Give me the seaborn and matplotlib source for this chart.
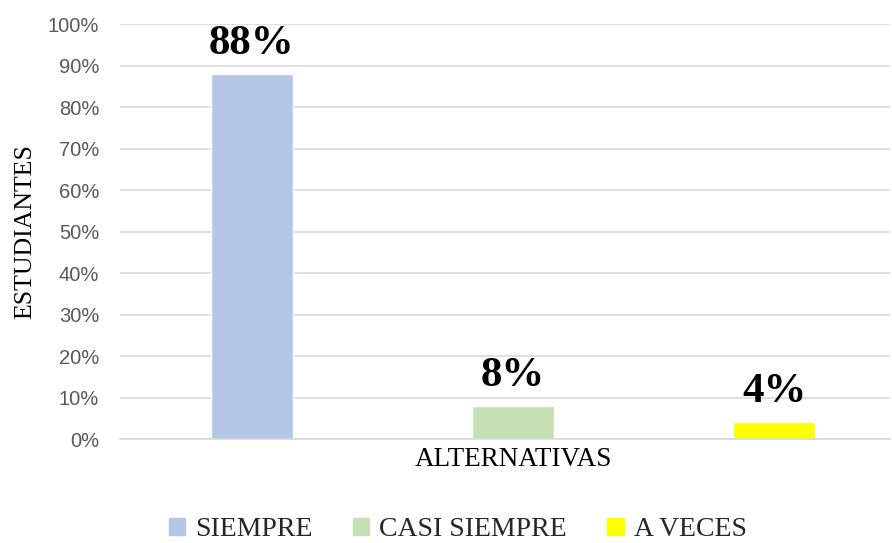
import numpy as np
import pandas as pd
import matplotlib.pyplot as plt
import matplotlib.patches as mpatches
from matplotlib.ticker import PercentFormatter
import seaborn as sns

categoria  = ['ALTERNATIVAS']
respuestas = ['SIEMPRE', 'CASI SIEMPRE', 'A VECES']
porcentaje = [0.88, 0.08, 0.04]
colores    = ['#B4C7E7', '#C5E0B4', '#FFFF00']

df = pd.DataFrame({
    'grupo'     : categoria * len(respuestas),
    'respuesta' : respuestas,
    'valor'     : porcentaje
})

sns.set_theme(style='white')
plt.rcParams['font.family'] = ['Liberation Serif', 'DejaVu Serif']

fig = plt.figure(figsize=(8.92, 5.43), dpi=100)
ax = fig.add_axes([0.1345, 0.1915, 0.8635, 0.7643])

sns.barplot(
    data=df, x='grupo', y='valor', hue='respuesta',
    palette=colores, hue_order=respuestas,
    width=0.8, gap=0.686, saturation=1, legend=False, ax=ax
)

for cont in ax.containers:
    ax.bar_label(cont, labels=[f'{v * 100:.0f}%' for v in cont.datavalues],
                 padding=8, fontsize=31, fontweight='bold',
                 family=['Liberation Serif'], color='black')

ax.set_ylim(0, 1.0)
ax.set_xlim(-0.401, 0.385)
ax.set_yticks(np.arange(0, 1.01, 0.1))
ax.yaxis.set_major_formatter(PercentFormatter(1.0, decimals=0))
for t in ax.get_yticklabels():
    t.set_family(['Liberation Sans'])
    t.set_fontsize(14.5)
    t.set_color('#595959')
ax.tick_params(axis='y', length=0, pad=15)
ax.tick_params(axis='x', length=0, pad=6, labelsize=19.5, labelcolor='black')

ax.grid(axis='y', color='#d9d9d9', linewidth=1.2)
ax.set_axisbelow(True)
for s in ['top', 'right', 'left']:
    ax.spines[s].set_visible(False)
ax.spines['bottom'].set_color('#d9d9d9')
ax.spines['bottom'].set_linewidth(1.2)

ax.set_xlabel('')
ax.set_ylabel('ESTUDIANTES', fontsize=18.5, color='black', labelpad=8)

handles = [mpatches.Patch(color=c, label=r) for c, r in zip(colores, respuestas)]
fig.legend(handles=handles, loc='lower center', bbox_to_anchor=(0.513, -0.045),
           ncol=3, frameon=False, fontsize=20, handlelength=0.6,
           handleheight=0.6, handletextpad=0.35, columnspacing=1.45)

fig.savefig('out.png', dpi=100)
